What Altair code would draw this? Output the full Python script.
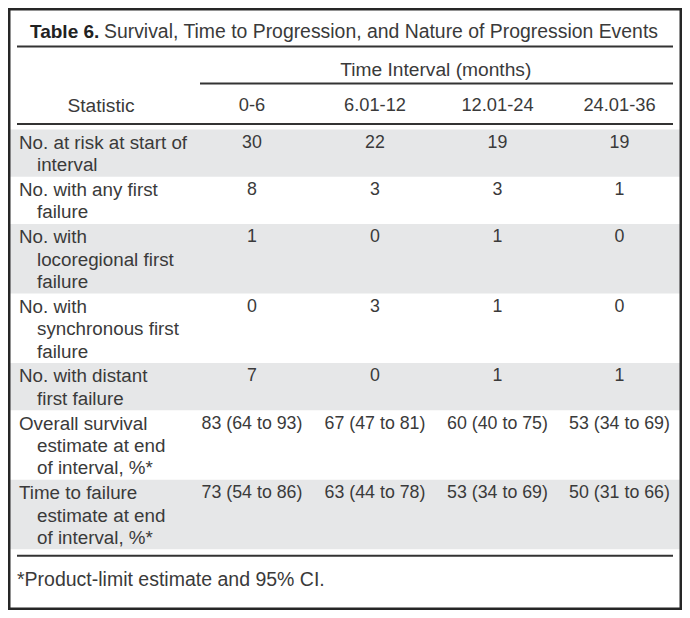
import altair as alt
import pandas as pd

# ---------------- data ----------------
title_bold = "Table 6."
title_rest = "Survival, Time to Progression, and Nature of Progression Events"
spanner = "Time Interval (months)"
stat_header = "Statistic"
intervals = ["0-6", "6.01-12", "12.01-24", "24.01-36"]

statistic_lines = [
    ["No. at risk at start of", "interval"],
    ["No. with any first", "failure"],
    ["No. with", "locoregional first", "failure"],
    ["No. with", "synchronous first", "failure"],
    ["No. with distant", "first failure"],
    ["Overall survival", "estimate at end", "of interval, %*"],
    ["Time to failure", "estimate at end", "of interval, %*"],
]

col_0_6 = ["30", "8", "1", "0", "7", "83 (64 to 93)", "73 (54 to 86)"]
col_6_12 = ["22", "3", "0", "3", "0", "67 (47 to 81)", "63 (44 to 78)"]
col_12_24 = ["19", "3", "1", "1", "1", "60 (40 to 75)", "53 (34 to 69)"]
col_24_36 = ["19", "1", "0", "0", "1", "53 (34 to 69)", "50 (31 to 66)"]
columns = [col_0_6, col_6_12, col_12_24, col_24_36]

footnote = "*Product-limit estimate and 95% CI."

# ---------------- layout (page pixel coordinates) ----------------
X0, X1 = 8, 682          # visible plot area
Y0, Y1 = 8, 610
RULE_L, RULE_R = 17, 673
SPAN_L = 200
LABEL_X = 19
INDENT_X = 37
STAT_X = 101
COL_X = [252, 375, 497.5, 619.5]
TITLE_X = 30
TITLE_REST_X = 104
TITLE_Y = 32
TITLE_RULE_Y = 46.5
SPAN_Y = 70
SPAN_RULE_Y = 83.5
HEAD_Y = 106
HEAD_RULE_Y = 124
BODY_TOP = 129.5
LINE_H = 22.35
ROW_PAD = 2.5
FOOT_Y = 580
TXT = "#3a3a3a"
FONT = "Liberation Sans"

# rows
bands, label_txt, value_txt = [], [], []
top = BODY_TOP
for i, lines in enumerate(statistic_lines):
    h = len(lines) * LINE_H + ROW_PAD
    if i % 2 == 0:
        bands.append({"x": X0, "x2": X1, "y": top, "y2": top + h})
    for j, ln in enumerate(lines):
        label_txt.append({"x": LABEL_X if j == 0 else INDENT_X,
                          "y": top + 13.4 + j * LINE_H, "t": ln})
    for c, col in enumerate(columns):
        value_txt.append({"x": COL_X[c], "y": top + 13.4, "t": col[i]})
    top += h
bottom_rule_y = top + 6.5

interval_txt = [{"x": COL_X[c], "y": HEAD_Y, "t": lab} for c, lab in enumerate(intervals)]
head_txt = [
    {"x": STAT_X, "y": HEAD_Y, "t": stat_header},
    {"x": (COL_X[0] + COL_X[-1]) / 2, "y": SPAN_Y, "t": spanner},
]
foot_txt = [{"x": RULE_L, "y": FOOT_Y, "t": footnote}]
title_txt = [{"x": TITLE_REST_X, "y": TITLE_Y, "t": title_rest}]
bold_txt = [{"x": TITLE_X, "y": TITLE_Y, "t": title_bold}]

rules = [
    {"x": RULE_L, "x2": RULE_R, "y": TITLE_RULE_Y},
    {"x": SPAN_L, "x2": RULE_R, "y": SPAN_RULE_Y},
    {"x": RULE_L, "x2": RULE_R, "y": HEAD_RULE_Y},
    {"x": RULE_L, "x2": RULE_R, "y": bottom_rule_y},
]
frame = [{"x": X0, "x2": X1, "y": Y0, "y2": Y1}]

xs = alt.Scale(domain=[X0, X1], nice=False, zero=False)
ys = alt.Scale(domain=[Y0, Y1], nice=False, zero=False, reverse=True)
X = lambda f="x": alt.X(f"{f}:Q", scale=xs, axis=None)
Y = lambda f="y": alt.Y(f"{f}:Q", scale=ys, axis=None)


def text_layer(rows, align, size, weight="normal", color=TXT):
    return alt.Chart(pd.DataFrame(rows)).mark_text(
        align=align, baseline="middle", font=FONT, fontSize=size,
        fontWeight=weight, color=color).encode(x=X(), y=Y(), text="t:N")


band_layer = alt.Chart(pd.DataFrame(bands)).mark_rect(color="#e6e7e8").encode(
    x=X(), x2="x2:Q", y=Y(), y2="y2:Q")
rule_layer = alt.Chart(pd.DataFrame(rules)).mark_rule(color="#333333", strokeWidth=2).encode(
    x=X(), x2="x2:Q", y=Y())
frame_layer = alt.Chart(pd.DataFrame(frame)).mark_rect(
    fill=None, stroke="#262626", strokeWidth=5).encode(x=X(), x2="x2:Q", y=Y(), y2="y2:Q")

chart = alt.layer(
    band_layer, rule_layer,
    text_layer(label_txt, "left", 18.8),
    text_layer(value_txt, "center", 17.8),
    text_layer(interval_txt, "center", 18.3),
    text_layer(head_txt, "center", 19.2),
    text_layer(foot_txt, "left", 19.5),
    text_layer(title_txt, "left", 19.4),
    text_layer(bold_txt, "left", 19, "bold", "#222222"),
    frame_layer,
).properties(
    width=X1 - X0, height=Y1 - Y0, padding=0, autosize="none", background="white"
).configure_view(stroke=None)

chart.save("out.html", embed_options={"renderer": "svg", "actions": False})
